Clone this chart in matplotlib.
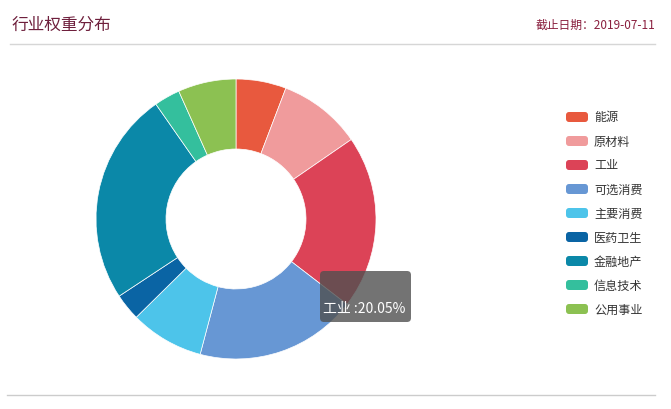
import matplotlib
matplotlib.use("Agg")
import matplotlib.pyplot as plt
from matplotlib.patches import FancyBboxPatch

plt.rcParams['font.family'] = ['Noto Sans CJK SC', 'DejaVu Sans']

# data
sectors = ["能源", "原材料", "工业", "可选消费", "主要消费", "医药卫生", "金融地产", "信息技术", "公用事业"]
weights = [5.8, 9.6, 20.05, 18.7, 8.5, 3.1, 24.6, 3.0, 6.7]
colors = ["#e8593e", "#f09b9c", "#dc4357", "#6797d4", "#4dc4ea",
          "#0a64a4", "#0b88a8", "#34bf9d", "#8cc152"]
title = "行业权重分布"
date_label = "截止日期：2019-07-11"
tip_sector = "工业"

W, H = 671, 410
fig = plt.figure(figsize=(W / 100, H / 100), dpi=100)
fig.patch.set_facecolor("white")

# overlay in pixel coordinates
over = fig.add_axes([0, 0, 1, 1])
over.set_xlim(0, W)
over.set_ylim(H, 0)
over.axis("off")

over.text(12, 25, title, fontsize=12, color="#6e1f3c", va="center", ha="left")
over.text(655, 25, date_label, fontsize=8.5, color="#8a1f3e", va="center", ha="right")
over.plot([10, 655], [45, 45], color="#d6d6d6", lw=1)
over.plot([7, 655], [396, 396], color="#cccccc", lw=1)

# donut
cx, cy, r = 236, 220, 140
ax = fig.add_axes([(cx - r) / W, (H - cy - r) / H, 2 * r / W, 2 * r / H])
ax.pie(weights, colors=colors, startangle=90, counterclock=False,
       wedgeprops=dict(width=0.5, edgecolor="white", linewidth=0.5))
ax.set_xlim(-1, 1)
ax.set_ylim(-1, 1)
ax.set_aspect("equal")
ax.axis("off")

# legend
for i, (name, c) in enumerate(zip(sectors, colors)):
    y = 118 + i * 24
    over.add_patch(FancyBboxPatch((566, y - 5), 22, 10,
                                  boxstyle="round,pad=0,rounding_size=3",
                                  fc=c, ec="none"))
    over.text(594, y, name, fontsize=8.7, color="#333333", va="center", ha="left")

# tooltip
tip = fig.add_axes([0, 0, 1, 1], facecolor="none")
tip.set_xlim(0, W)
tip.set_ylim(H, 0)
tip.axis("off")
tip.add_patch(FancyBboxPatch((320, 272), 91, 51,
                             boxstyle="round,pad=0,rounding_size=4",
                             fc="#505050", ec="none", alpha=0.8))
idx = sectors.index(tip_sector)
tip.text(323, 309, f"{tip_sector} :{weights[idx]:.2f}%", fontsize=10,
         color="white", va="center", ha="left")

fig.savefig("out.png", dpi=100)
